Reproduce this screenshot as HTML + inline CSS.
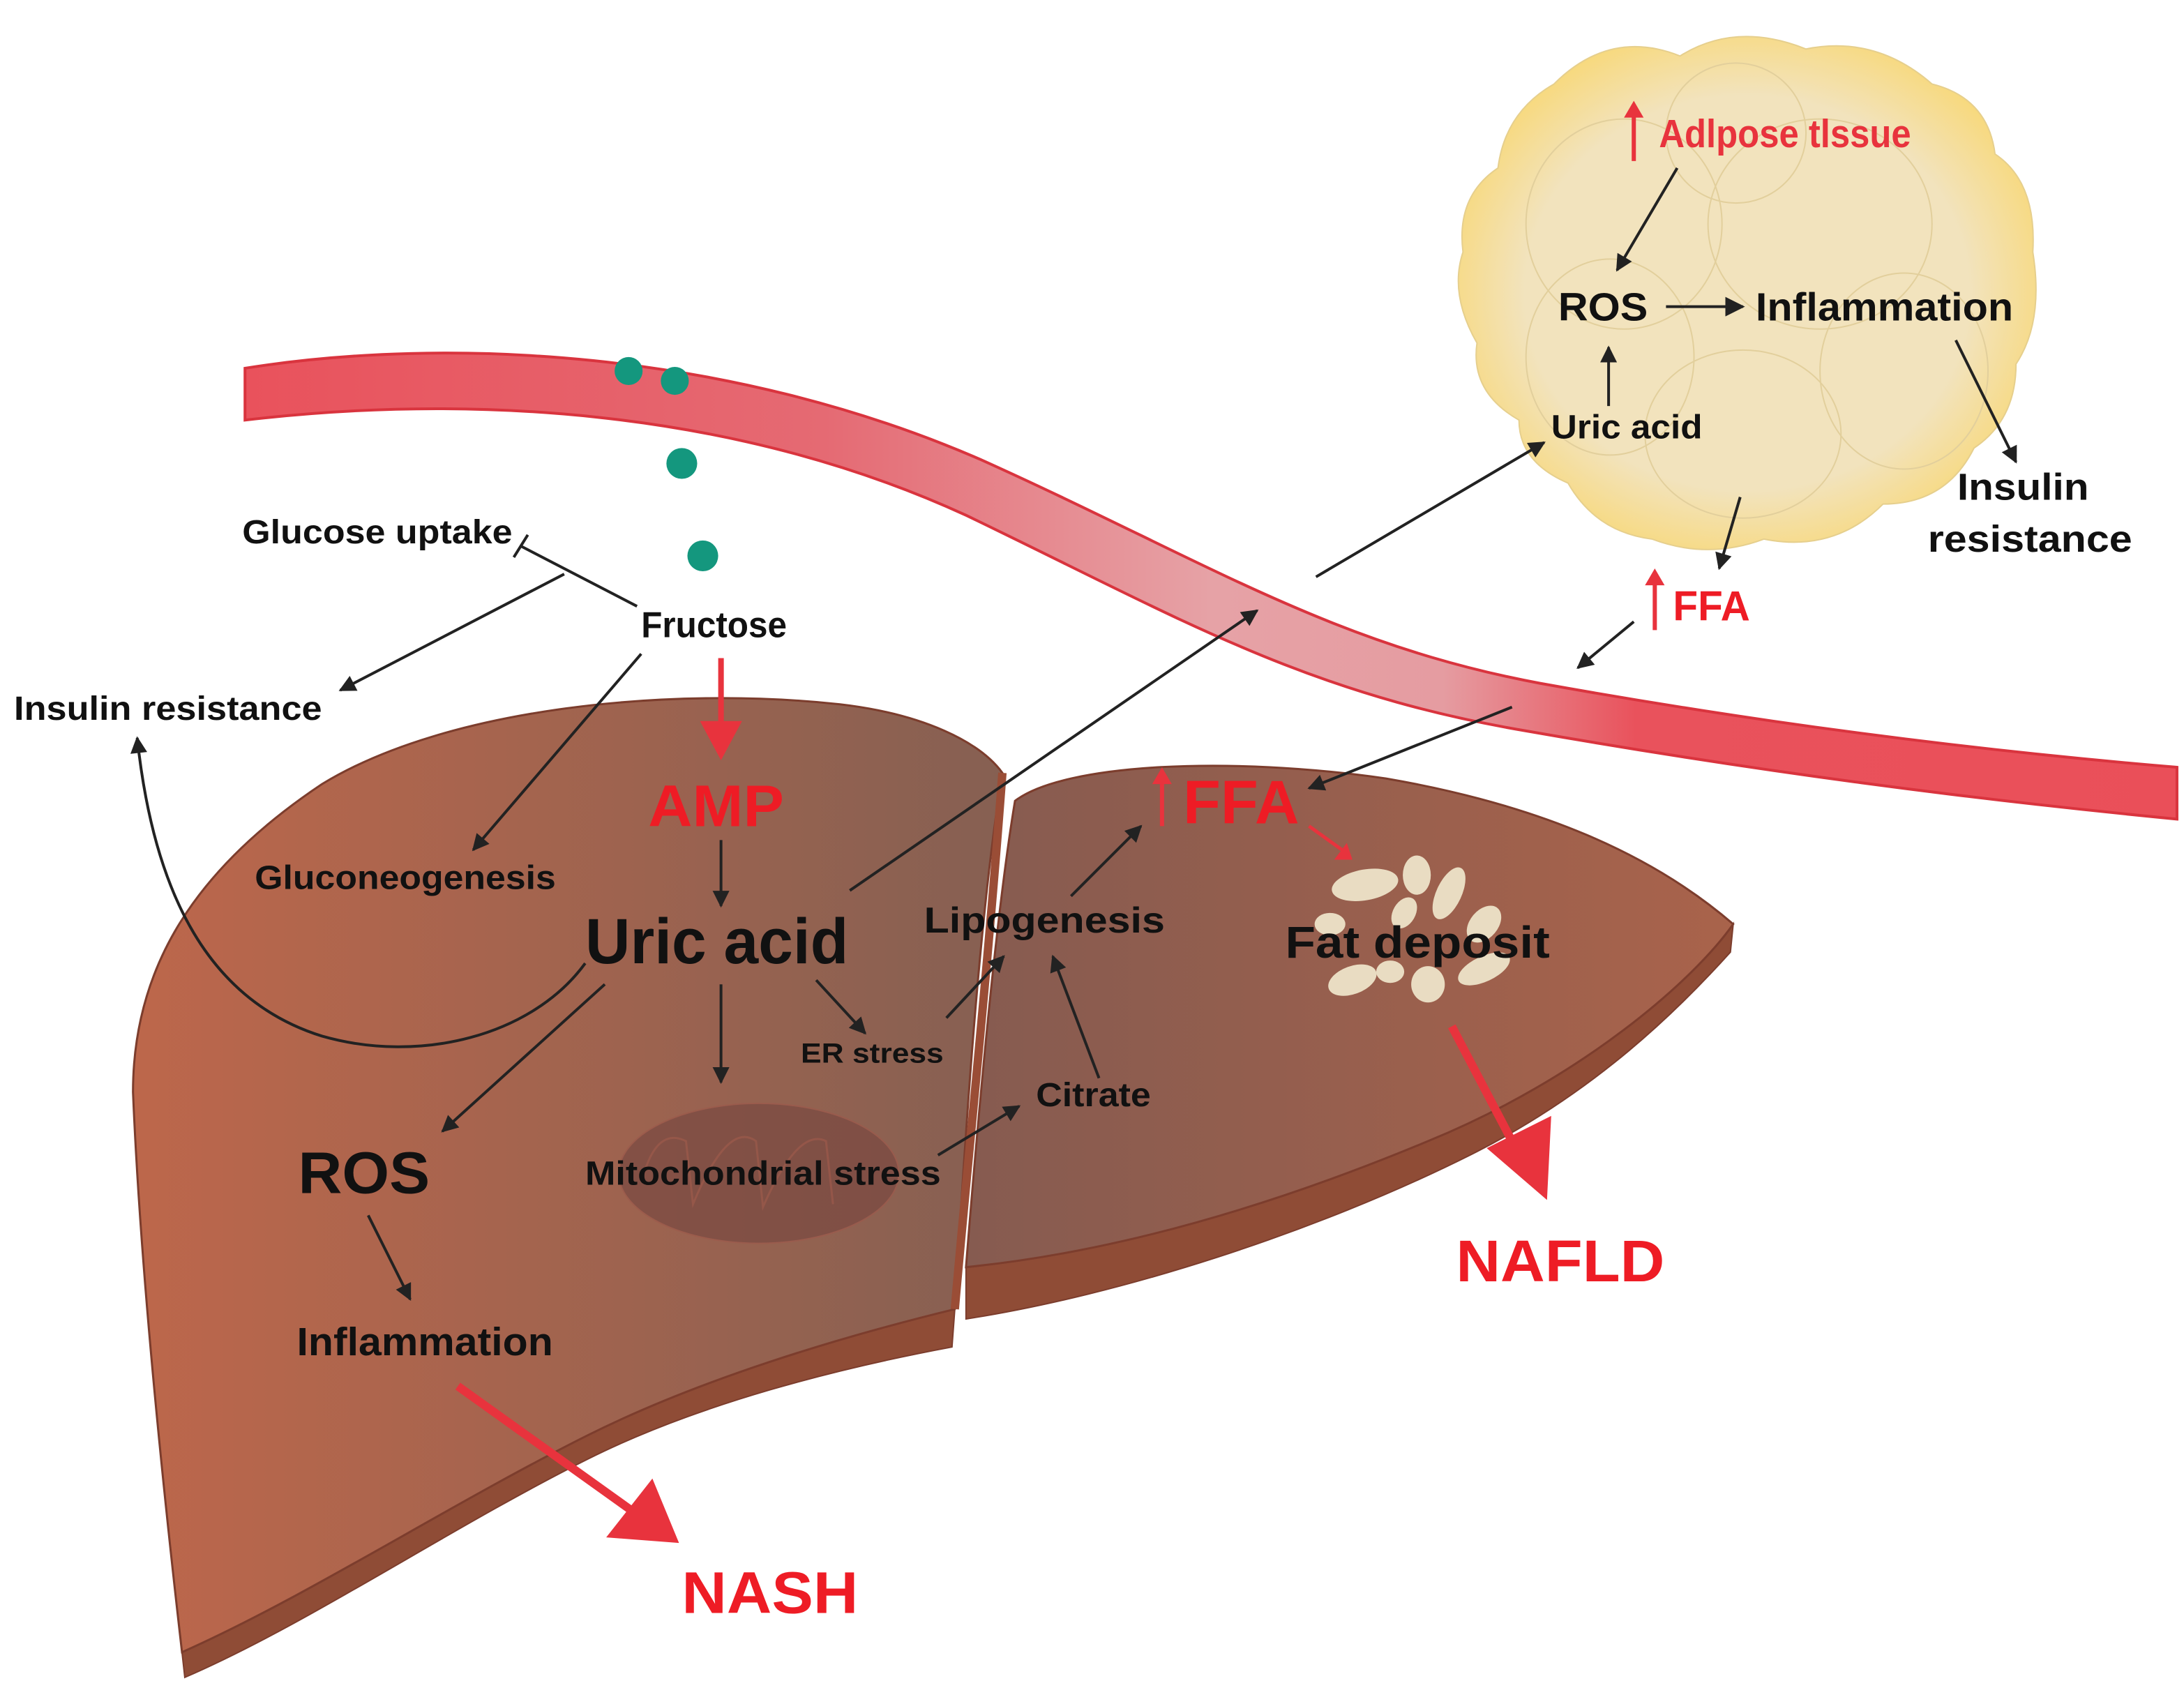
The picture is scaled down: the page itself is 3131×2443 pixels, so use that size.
<!DOCTYPE html>
<html><head><meta charset="utf-8">
<style>
html,body{margin:0;padding:0;background:#fff;}
svg{display:block;}
text{font-family:"Liberation Sans Narrow","Liberation Sans",sans-serif;font-weight:bold;}
</style></head><body>
<svg width="3131" height="2443" viewBox="0 0 1560 1217" preserveAspectRatio="none" xmlns="http://www.w3.org/2000/svg">
<defs>
<marker id="a" viewBox="0 0 10 10" refX="9" refY="5" markerWidth="14" markerHeight="12" orient="auto" markerUnits="userSpaceOnUse"><path d="M0,0 L10,5 L0,10 z" fill="#222"/></marker>
<marker id="ab" viewBox="0 0 10 10" refX="9" refY="5" markerWidth="16" markerHeight="14" orient="auto" markerUnits="userSpaceOnUse"><path d="M0,0 L10,5 L0,10 z" fill="#222"/></marker>
<linearGradient id="ves" x1="0" y1="0" x2="1" y2="0">
<stop offset="0" stop-color="#e9525c"/><stop offset="0.3" stop-color="#e56a73"/><stop offset="0.5" stop-color="#e6a2a6"/><stop offset="0.62" stop-color="#e59ca1"/><stop offset="0.72" stop-color="#e9525c"/><stop offset="1" stop-color="#ea4f59"/></linearGradient>
<linearGradient id="lv" x1="0" y1="0" x2="1" y2="0">
<stop offset="0" stop-color="#bd674b"/><stop offset="1" stop-color="#866052"/></linearGradient>
<linearGradient id="rv" x1="0" y1="0" x2="1" y2="0">
<stop offset="0" stop-color="#865b50"/><stop offset="1" stop-color="#a9634b"/></linearGradient>
<radialGradient id="fat" cx="0.5" cy="0.5" r="0.55">
<stop offset="0.7" stop-color="#f2e3bd"/><stop offset="1" stop-color="#f8d877"/></radialGradient>
</defs>

<!-- adipose -->
<g stroke="#e6cf8d" stroke-width="1">
<path d="M1110,60 Q1150,20 1200,40 Q1240,15 1290,35 Q1340,25 1380,60 Q1420,70 1425,110 Q1455,130 1452,180 Q1460,230 1440,260 Q1440,300 1410,320 Q1390,360 1345,360 Q1310,395 1260,385 Q1220,400 1180,385 Q1140,380 1120,345 Q1085,330 1085,300 Q1050,280 1055,245 Q1035,210 1045,180 Q1040,140 1070,120 Q1075,80 1110,60 Z" fill="url(#fat)"/>
<g fill="none" stroke="#e2cf9c">
<ellipse cx="1160" cy="160" rx="70" ry="75"/>
<ellipse cx="1300" cy="160" rx="80" ry="75"/>
<ellipse cx="1150" cy="255" rx="60" ry="70"/>
<ellipse cx="1360" cy="265" rx="60" ry="70"/>
<ellipse cx="1245" cy="310" rx="70" ry="60"/>
<ellipse cx="1240" cy="95" rx="50" ry="50"/>
</g></g>

<!-- vessel -->
<path d="M175,263 C320,240 520,250 700,328 C860,400 950,460 1100,488 C1250,515 1400,535 1555,548 L1555,585 C1400,570 1250,550 1090,522 C930,495 840,440 690,368 C520,290 330,282 175,300 Z" fill="url(#ves)" stroke="#d9343e" stroke-width="2"/>
<g fill="#14977e"><circle cx="449" cy="265" r="10"/><circle cx="482" cy="272" r="10"/><circle cx="487" cy="331" r="11"/><circle cx="502" cy="397" r="11"/></g>

<!-- left lobe -->
<path d="M130,1180 C220,1140 320,1075 420,1025 C500,985 600,955 682,935 L680,962 C600,977 500,1002 420,1042 C320,1092 220,1160 132,1198 Z" fill="#8f4c36" stroke="#7c3d2d" stroke-width="1"/>
<path d="M130,1180 C115,1050 100,900 95,780 C95,690 140,620 230,560 C320,505 480,490 600,503 C660,510 700,530 716,552 C700,650 690,800 682,935 C600,955 500,985 420,1025 C320,1075 220,1140 130,1180 Z" fill="url(#lv)" stroke="#7c3d2d" stroke-width="1.5"/>
<!-- right lobe -->
<path d="M690,905 C790,895 900,865 1020,815 C1130,770 1210,700 1238,660 L1236,680 C1200,720 1140,780 1050,825 C940,880 800,925 690,942 Z" fill="#8f4c36" stroke="#7c3d2d" stroke-width="1"/>
<path d="M690,905 C700,780 712,650 725,572 C760,545 880,540 990,556 C1100,575 1180,610 1238,660 C1210,700 1130,770 1020,815 C900,865 790,895 690,905 Z" fill="url(#rv)" stroke="#7c3d2d" stroke-width="1.5"/>
<path d="M716,552 C705,700 692,820 682,935" stroke="#9a4d36" stroke-width="6" fill="none"/>
<!-- mitochondrion -->
<ellipse cx="542" cy="838" rx="100" ry="50" fill="#7b4a42" opacity="0.75" stroke="#9c5a4c" stroke-width="1"/>
<path d="M460,838 Q470,805 490,815 L495,860 Q520,800 540,815 L545,862 Q570,805 590,815 L595,860" fill="none" stroke="#9c5a4c" stroke-width="1.5" opacity="0.7"/>
<!-- fat deposit -->
<g fill="#e9dcc2">
<ellipse cx="975" cy="632" rx="24" ry="11" transform="rotate(-10 975 632)"/>
<ellipse cx="1012" cy="625" rx="10" ry="14"/>
<ellipse cx="1035" cy="638" rx="9" ry="20" transform="rotate(25 1035 638)"/>
<ellipse cx="1003" cy="652" rx="8" ry="12" transform="rotate(30 1003 652)"/>
<ellipse cx="1060" cy="660" rx="10" ry="15" transform="rotate(40 1060 660)"/>
<ellipse cx="950" cy="660" rx="11" ry="8"/>
<ellipse cx="966" cy="700" rx="18" ry="10" transform="rotate(-20 966 700)"/>
<ellipse cx="993" cy="694" rx="10" ry="8"/>
<ellipse cx="1020" cy="703" rx="12" ry="13"/>
<ellipse cx="1060" cy="692" rx="20" ry="9" transform="rotate(-25 1060 692)"/>
</g>

<!-- black arrows -->
<g stroke="#222" stroke-width="2" fill="none" marker-end="url(#a)">
<line x1="403" y1="410" x2="243" y2="493"/>
<line x1="458" y1="467" x2="338" y2="607"/>
<line x1="515" y1="600" x2="515" y2="647"/>
<path d="M418,688 C380,740 300,760 230,740 C150,715 110,640 98,527"/>
<line x1="432" y1="703" x2="316" y2="808"/>
<line x1="515" y1="703" x2="515" y2="773"/>
<line x1="583" y1="700" x2="618" y2="738"/>
<line x1="676" y1="727" x2="717" y2="683"/>
<line x1="670" y1="825" x2="728" y2="790"/>
<line x1="785" y1="770" x2="752" y2="683"/>
<line x1="765" y1="640" x2="815" y2="590"/>
<line x1="607" y1="636" x2="898" y2="436"/>
<line x1="940" y1="412" x2="1103" y2="316"/>
<line x1="263" y1="868" x2="293" y2="928"/>
<line x1="1198" y1="120" x2="1155" y2="193"/>
<line x1="1149" y1="290" x2="1149" y2="248"/>
<line x1="1397" y1="243" x2="1440" y2="330"/>
<line x1="1243" y1="355" x2="1228" y2="406"/>
<line x1="1167" y1="444" x2="1127" y2="477"/>
<line x1="1080" y1="505" x2="935" y2="563"/>
</g>
<line x1="1190" y1="219" x2="1245" y2="219" stroke="#222" stroke-width="2" marker-end="url(#ab)"/>
<!-- inhibition -->
<line x1="455" y1="433" x2="372" y2="390" stroke="#222" stroke-width="2"/>
<line x1="367" y1="398" x2="377" y2="382" stroke="#222" stroke-width="2"/>

<!-- red arrows -->
<line x1="515" y1="470" x2="515" y2="518" stroke="#e8333d" stroke-width="4"/>
<path d="M500,515 L530,515 L515,543 Z" fill="#e8333d"/>
<line x1="935" y1="590" x2="960" y2="608" stroke="#e8333d" stroke-width="2.5"/>
<path d="M953,614 L966,614 L962,602 Z" fill="#e8333d"/>
<line x1="1037" y1="733" x2="1080" y2="815" stroke="#e8333d" stroke-width="6"/>
<path d="M1062,820 L1108,797 L1105,857 Z" fill="#e8333d"/>
<line x1="327" y1="990" x2="450" y2="1078" stroke="#e8333d" stroke-width="6"/>
<path d="M433,1098 L466,1056 L485,1102 Z" fill="#e8333d"/>
<g stroke="#e8333d" stroke-width="3">
<line x1="1167" y1="115" x2="1167" y2="80"/><line x1="1182" y1="450" x2="1182" y2="414"/><line x1="830" y1="590" x2="830" y2="556"/></g>
<g fill="#e8333d"><path d="M1160,84 L1174,84 L1167,72 Z"/><path d="M1175,418 L1189,418 L1182,406 Z"/><path d="M823,560 L837,560 L830,548 Z"/></g>

<!-- text -->
<g fill="#111">
<text x="173" y="388" font-size="24" textLength="193" lengthAdjust="spacingAndGlyphs">Glucose uptake</text>
<text x="458" y="455" font-size="26" textLength="104" lengthAdjust="spacingAndGlyphs">Fructose</text>
<text x="10" y="514" font-size="24" textLength="220" lengthAdjust="spacingAndGlyphs">Insulin resistance</text>
<text x="182" y="635" font-size="24" textLength="215" lengthAdjust="spacingAndGlyphs">Gluconeogenesis</text>
<text x="418" y="688" font-size="46" textLength="188" lengthAdjust="spacingAndGlyphs">Uric acid</text>
<text x="213" y="852" font-size="42" textLength="94" lengthAdjust="spacingAndGlyphs">ROS</text>
<text x="212" y="968" font-size="28" textLength="183" lengthAdjust="spacingAndGlyphs">Inflammation</text>
<text x="572" y="759" font-size="20" textLength="102" lengthAdjust="spacingAndGlyphs">ER stress</text>
<text x="418" y="846" font-size="24" textLength="254" lengthAdjust="spacingAndGlyphs">Mitochondrial stress</text>
<text x="660" y="666" font-size="26" textLength="172" lengthAdjust="spacingAndGlyphs">Lipogenesis</text>
<text x="740" y="790" font-size="24" textLength="82" lengthAdjust="spacingAndGlyphs">Citrate</text>
<text x="918" y="684" font-size="32" textLength="189" lengthAdjust="spacingAndGlyphs">Fat deposit</text>
<text x="1113" y="229" font-size="28" textLength="64" lengthAdjust="spacingAndGlyphs">ROS</text>
<text x="1254" y="229" font-size="28" textLength="184" lengthAdjust="spacingAndGlyphs">Inflammation</text>
<text x="1108" y="313" font-size="24" textLength="108" lengthAdjust="spacingAndGlyphs">Uric acid</text>
<text x="1398" y="357" font-size="27" textLength="94" lengthAdjust="spacingAndGlyphs">Insulin</text>
<text x="1377" y="394" font-size="27" textLength="146" lengthAdjust="spacingAndGlyphs">resistance</text>
</g>
<g fill="#ee1c25">
<text x="1185" y="105" font-size="28" textLength="180" lengthAdjust="spacingAndGlyphs" fill="#e8333d">Adlpose tlssue</text>
<text x="1195" y="443" font-size="30" textLength="55" lengthAdjust="spacingAndGlyphs">FFA</text>
<text x="463" y="590" font-size="42" textLength="97" lengthAdjust="spacingAndGlyphs">AMP</text>
<text x="845" y="588" font-size="44" textLength="83" lengthAdjust="spacingAndGlyphs">FFA</text>
<text x="487" y="1152" font-size="42" textLength="126" lengthAdjust="spacingAndGlyphs">NASH</text>
<text x="1040" y="915" font-size="42" textLength="149" lengthAdjust="spacingAndGlyphs">NAFLD</text>
</g>
</svg>
</body></html>
